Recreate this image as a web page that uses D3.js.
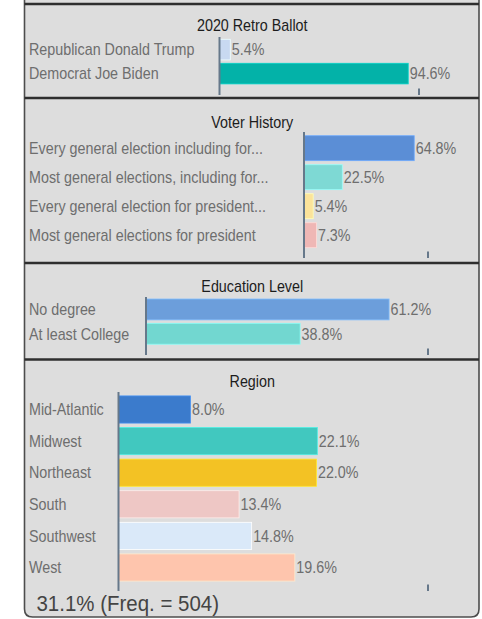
<!DOCTYPE html>
<html>
<head>
<meta charset="utf-8">
<script src="https://cdn.jsdelivr.net/npm/d3@7"></script>
<style>
html,body{margin:0;padding:0;background:#ffffff;}
svg{display:block;}
</style>
</head>
<body>
<svg id="chart" width="482" height="619"></svg>
<script>
// ---------- DATA ----------
const panelTitles = ["2020 Retro Ballot", "Voter History", "Education Level", "Region"];

const ballotCategories = ["Republican Donald Trump", "Democrat Joe Biden"];
const ballotValues = [5.4, 94.6];

const historyCategories = [
  "Every general election including for...",
  "Most general elections, including for...",
  "Every general election for president...",
  "Most general elections for president"
];
const historyValues = [64.8, 22.5, 5.4, 7.3];

const educationCategories = ["No degree", "At least College"];
const educationValues = [61.2, 38.8];

const regionCategories = ["Mid-Atlantic", "Midwest", "Northeast", "South", "Southwest", "West"];
const regionValues = [8.0, 22.1, 22.0, 13.4, 14.8, 19.6];

// axis maximum (where the single tick sits) for each panel
const axisMax = [100, 72.9, 71.0, 34.4];

const footerText = "31.1% (Freq. = 504)";

// ---------- STYLES ----------
const ballotColors = ["#c8d9f1", "#03b2a8"];
const historyColors = ["#5b8ed6", "#7ed9d4", "#fbe39a", "#efb7b5"];
const educationColors = ["#6c9edb", "#72d7d0"];
const regionColors = ["#3b7bcc", "#41c8bf", "#f3c224", "#eec7c5", "#dae9f9", "#fec5ad"];

// ---------- LAYOUT ----------
const layout = [
  {title: 25, axisX: 219.5, tickX: 419, axisTop: 37, axisBottom: 95, bandTop: 37.6, bandBottom: 85.6},
  {title: 122.5, axisX: 304, tickX: 428, axisTop: 132, axisBottom: 258, bandTop: 133.7, bandBottom: 249.7},
  {title: 286, axisX: 146, tickX: 428, axisTop: 297, axisBottom: 355, bandTop: 297.3, bandBottom: 345.9},
  {title: 381.5, axisX: 118.5, tickX: 428, axisTop: 392, axisBottom: 591, bandTop: 393.7, bandBottom: 583.3}
];
const dividers = [4, 98, 263, 359.5];

const panels = [
  {cats: ballotCategories, vals: ballotValues, colors: ballotColors},
  {cats: historyCategories, vals: historyValues, colors: historyColors},
  {cats: educationCategories, vals: educationValues, colors: educationColors},
  {cats: regionCategories, vals: regionValues, colors: regionColors}
];

const svg = d3.select("#chart");
const FONT = "'Liberation Sans', Arial, sans-serif";
const SX = 0.895;

// outer panel
const left = 24.5, right = 479, bottom = 617, r = 8;
svg.append("path")
  .attr("d", `M${left},-10 L${left},${bottom - r} Q${left},${bottom} ${left + r},${bottom} L${right - r},${bottom} Q${right},${bottom} ${right},${bottom - r} L${right},-10 Z`)
  .attr("fill", "#dddddd")
  .attr("stroke", "#4d4d4d")
  .attr("stroke-width", 1.6);

// dividers
svg.selectAll("line.divider").data(dividers).enter().append("line")
  .attr("class", "divider")
  .attr("x1", left).attr("x2", right)
  .attr("y1", d => d).attr("y2", d => d)
  .attr("stroke", "#2e2e2e").attr("stroke-width", 2.4);

function addText(g, x, y, txt, opts) {
  return g.append("text")
    .attr("transform", `translate(${x},${y}) scale(${opts.sx || SX},1)`)
    .attr("text-anchor", opts.anchor || "start")
    .attr("dominant-baseline", "central")
    .attr("font-family", FONT)
    .attr("font-size", opts.size || 16)
    .attr("fill", opts.fill || "#6e6e6e")
    .text(txt);
}

panels.forEach((p, i) => {
  const L = layout[i];
  const g = svg.append("g");
  const x = d3.scaleLinear().domain([0, axisMax[i]]).range([L.axisX, L.tickX]);
  const y = d3.scaleBand().domain(p.cats).range([L.bandTop, L.bandBottom]).paddingInner(0.14).paddingOuter(0.07);

  // title
  addText(g, (left + right) / 2 + 0.5, L.title, panelTitles[i], {anchor: "middle", fill: "#1c1c1c"});

  // bars
  g.selectAll("rect.bar").data(p.vals).enter().append("rect")
    .attr("class", "bar")
    .attr("x", x(0))
    .attr("y", (d, j) => y(p.cats[j]))
    .attr("width", d => x(d) - x(0))
    .attr("height", y.bandwidth())
    .attr("fill", (d, j) => p.colors[j])
    .attr("stroke", (d, j) => d3.color(p.colors[j]).brighter(0.5))
    .attr("stroke-width", 0.8);

  // category labels
  p.cats.forEach((c, j) => {
    addText(g, 29, y(c) + y.bandwidth() / 2, c, {});
  });

  // value labels
  p.vals.forEach((v, j) => {
    addText(g, x(v) + 1.5, y(p.cats[j]) + y.bandwidth() / 2, v.toFixed(1) + "%", {});
  });

  // axis line
  g.append("line")
    .attr("x1", L.axisX).attr("x2", L.axisX)
    .attr("y1", L.axisTop).attr("y2", L.axisBottom)
    .attr("stroke", "#66788a").attr("stroke-width", 2);

  // single tick at axis max
  g.append("line")
    .attr("x1", x(axisMax[i])).attr("x2", x(axisMax[i]))
    .attr("y1", L.axisBottom - 6.5).attr("y2", L.axisBottom)
    .attr("stroke", "#66788a").attr("stroke-width", 2);
});

// footer
addText(svg, 36.5, 604, footerText, {size: 22, sx: 0.93, fill: "#444444"});
</script>
</body>
</html>
